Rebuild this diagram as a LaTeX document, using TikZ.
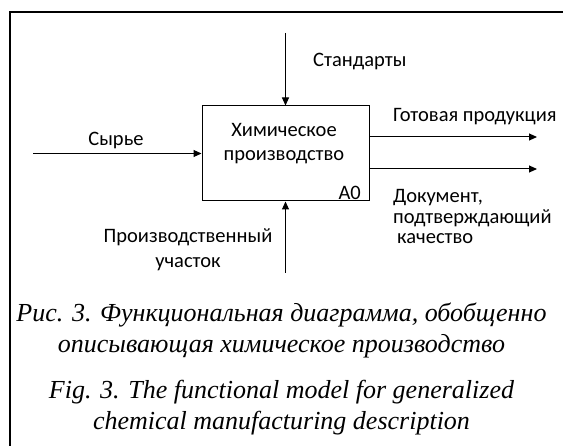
\documentclass[tikz,border=0pt]{standalone}
\usepackage{fontspec}
\setmainfont{Liberation Serif}
\newfontfamily\lblfont{Carlito}
\usetikzlibrary{arrows.meta, positioning, calc}

\begin{document}
\begin{tikzpicture}[x=1pt, y=-1pt, >={Triangle[length=8pt, width=7pt]},
    lbl/.style={font=\lblfont\fontsize{20.5}{21}\selectfont, inner sep=0pt},
    figcap/.style={font=\itshape\fontsize{26}{31}\selectfont, align=center, inner sep=0pt},
    func/.style={draw, line width=1pt, minimum width=167pt, minimum height=95pt, inner sep=0pt},
    flow/.style={->, line width=1pt}]
  \useasboundingbox (0,0) rectangle (563,446);
  % outer frame
  \draw[line width=1.3pt] (570,12) -- (10,12) -- (10,455);
  % function block A0
  \node[func] (proc) at (285.5,153.5) {};
  \node[lbl, align=center, font=\lblfont\fontsize{20.5}{24}\selectfont] (proctxt) at (284,144) {Химическое\\производство};
  \node[lbl, anchor=base east] (num) at (361,199.5) {A0};
  % control, input, mechanism, outputs
  \coordinate (ctrl) at (285.5,33);
  \coordinate (inp) at (33,153.5);
  \coordinate (mech) at (285.5,273);
  \coordinate (outA) at (537,137);
  \coordinate (outB) at (537,169);
  \draw[flow] (ctrl) -- (proc.north);
  \draw[flow] (inp) -- (proc.west);
  \draw[flow] (mech) -- (proc.south);
  \draw[flow] (proc.east |- outA) -- (outA);
  \draw[flow] (proc.east |- outB) -- (outB);
  % arrow labels
  \node[lbl, anchor=west] (std) at (313,62) {Стандарты};
  \node[lbl] (raw) at (116,141) {Сырье};
  \node[lbl, anchor=west] (prod) at (393,117) {Готовая продукция};
  \node[lbl, anchor=west, align=left, font=\lblfont\fontsize{20.5}{20.5}\selectfont] (doc) at (393,217) {Документ,\\подтверждающий\\\hspace*{4pt}качество};
  \node[lbl, align=center, font=\lblfont\fontsize{20.5}{25}\selectfont] (site) at (188,250) {Производственный\\участок};
  % captions
  \node[figcap] (rus) at (281.5,330) {Рис. 3. Функциональная диаграмма, обобщенно\\описывающая химическое производство};
  \node[figcap] (eng) at (281.5,408) {Fig. 3. The functional model for generalized\\chemical manufacturing description};
\end{tikzpicture}
\end{document}
